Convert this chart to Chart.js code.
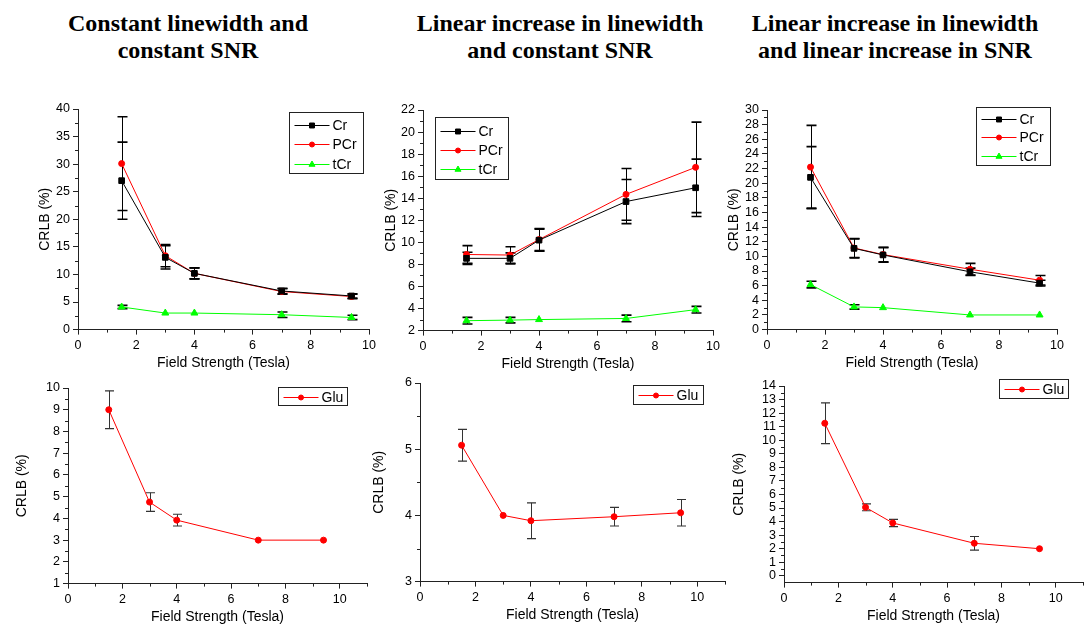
<!DOCTYPE html>
<html>
<head>
<meta charset="utf-8">
<script src="https://cdn.jsdelivr.net/npm/chart.js@4.4.1/dist/chart.umd.min.js"></script>
<style>
  body { margin: 0; background: #fff; width: 1089px; height: 626px; position: relative; overflow: hidden; }
  .title { position: absolute; top: 10px; width: 420px; text-align: center;
           font: bold 24px "Liberation Serif", "Times New Roman", serif; line-height: 27px; color: #000; }
  canvas { position: absolute; }
</style>
</head>
<body>
<div class="title" style="left:-22px">Constant linewidth and<br>constant SNR</div>
<div class="title" style="left:350px">Linear increase in linewidth<br>and constant SNR</div>
<div class="title" style="left:685px">Linear increase in linewidth<br>and linear increase in SNR</div>

<canvas id="topA"></canvas>
<canvas id="topB"></canvas>
<canvas id="topC"></canvas>
<canvas id="botA"></canvas>
<canvas id="botB"></canvas>
<canvas id="botC"></canvas>

<script>
// field strengths (Tesla)
const fieldStrength = [1.5, 3, 4, 7, 9.4];

// constant linewidth and constant SNR
const crA = [27.0, 13.1, 10.2, 7.0, 6.1];
const crErrA = [7.0, 2.1, 1.0, 0.5, 0.4];
const pcrA = [30.1, 13.4, 10.2, 6.9, 6.0];
const pcrErrA = [8.5, 2.0, 1.0, 0.5, 0.4];
const tcrA = [4.1, 3.0, 3.0, 2.7, 2.2];
const tcrErrA = [0.3, 0, 0, 0.5, 0.4];
const gluA = [9.0, 4.75, 3.92, 3.0, 3.0];
const gluErrA = [0.87, 0.43, 0.27, 0, 0];

// linear increase in linewidth and constant SNR
const crB = [8.55, 8.55, 10.2, 13.7, 14.95];
const crErrB = [0.55, 0.5, 1.0, 2.0, 2.6];
const pcrB = [8.9, 8.85, 10.25, 14.35, 16.8];
const pcrErrB = [0.8, 0.75, 1.0, 2.35, 4.1];
const tcrB = [2.9, 2.95, 3.0, 3.1, 3.9];
const tcrErrB = [0.3, 0.25, 0, 0.3, 0.3];
const gluB = [5.06, 4.0, 3.92, 3.98, 4.04];
const gluErrB = [0.24, 0, 0.27, 0.14, 0.2];

// linear increase in linewidth and linear increase in SNR
const crC = [20.8, 11.1, 10.2, 7.9, 6.35];
const crErrC = [4.2, 1.3, 1.0, 0.5, 0.4];
const pcrC = [22.2, 11.15, 10.25, 8.25, 6.75];
const pcrErrC = [5.7, 1.3, 1.0, 0.8, 0.65];
const tcrC = [6.15, 3.1, 3.0, 2.0, 2.0];
const tcrErrC = [0.45, 0.3, 0, 0, 0];
const gluC = [11.25, 5.05, 3.9, 2.4, 2.0];
const gluErrC = [1.5, 0.25, 0.27, 0.5, 0];

// ticks
const xTicks = [0, 2, 4, 6, 8, 10];
const yTicksTopA = [0, 5, 10, 15, 20, 25, 30, 35, 40];
const yTicksTopB = [2, 4, 6, 8, 10, 12, 14, 16, 18, 20, 22];
const yTicksTopC = [0, 2, 4, 6, 8, 10, 12, 14, 16, 18, 20, 22, 24, 26, 28, 30];
const yTicksBotA = [1, 2, 3, 4, 5, 6, 7, 8, 9, 10];
const yTicksBotB = [3, 4, 5, 6];
const yTicksBotC = [0, 1, 2, 3, 4, 5, 6, 7, 8, 9, 10, 11, 12, 13, 14];

const AXIS = '#222';
Chart.defaults.font.family = '"Liberation Sans", Arial, sans-serif';
Chart.defaults.color = '#000';

// vertical error bars with caps
const errorBars = {
  id: 'errorBars',
  beforeDatasetsDraw(chart, args, opts) {
    const { ctx, scales: { x, y } } = chart;
    chart.data.datasets.forEach(ds => {
      ctx.save();
      ctx.strokeStyle = opts.color;
      ds.data.forEach((p, i) => {
        const e = ds.errors[i];
        if (!e) return;
        const px = Math.round(x.getPixelForValue(p.x)) + 0.5;
        const t = y.getPixelForValue(p.y + e), b = y.getPixelForValue(p.y - e);
        ctx.lineWidth = 1;
        ctx.beginPath(); ctx.moveTo(px, t); ctx.lineTo(px, b); ctx.stroke();
        ctx.lineWidth = opts.capWidth;
        ctx.beginPath();
        ctx.moveTo(px - opts.cap, t); ctx.lineTo(px + opts.cap, t);
        ctx.moveTo(px - opts.cap, b); ctx.lineTo(px + opts.cap, b);
        ctx.stroke();
      });
      ctx.restore();
    });
  }
};

// small ticks half way between the labelled ones
const minorTicks = {
  id: 'minorTicks',
  afterDraw(chart) {
    const { ctx, scales: { x, y } } = chart;
    const halves = (s) => {
      const v = s.ticks.map(t => t.value), step = v[1] - v[0], out = [];
      for (let m = v[0] + step / 2; m < s.max + 1e-9; m += step) out.push(m);
      return out;
    };
    ctx.save();
    ctx.strokeStyle = AXIS; ctx.lineWidth = 1;
    ctx.beginPath();
    halves(x).forEach(v => {
      const px = Math.round(x.getPixelForValue(v)) + 0.5;
      ctx.moveTo(px, y.bottom); ctx.lineTo(px, y.bottom + 3);
    });
    halves(y).forEach(v => {
      if (v < y.min) return;
      const py = Math.round(y.getPixelForValue(v)) + 0.5;
      ctx.moveTo(x.left, py); ctx.lineTo(x.left - 3, py);
    });
    ctx.stroke();
    ctx.restore();
  }
};

// boxed legend drawn inside the plot
const legendBox = {
  id: 'legendBox',
  afterDraw(chart, args, o) {
    const { ctx, chartArea } = chart;
    const bx = Math.round(chartArea.left + o.x) + 0.5, by = Math.round(chartArea.top + o.y) + 0.5;
    ctx.save();
    ctx.strokeStyle = '#222'; ctx.lineWidth = 1;
    ctx.strokeRect(bx, by, o.w, o.h);
    ctx.font = '14px "Liberation Sans", Arial, sans-serif';
    ctx.textBaseline = 'middle';
    chart.data.datasets.forEach((ds, i) => {
      const ry = Math.round(by + o.row0 + i * o.gap) + 0.5;
      ctx.strokeStyle = ds.borderColor; ctx.lineWidth = 1;
      ctx.beginPath(); ctx.moveTo(bx + 5, ry); ctx.lineTo(bx + 40, ry); ctx.stroke();
      ctx.fillStyle = ds.pointBackgroundColor;
      Chart.helpers.drawPoint(ctx, { pointStyle: ds.pointStyle, radius: ds.pointRadius - 0.5, borderWidth: 1, rotation: 0 }, bx + 22.5, ry);
      ctx.fillStyle = '#000';
      ctx.fillText(ds.label, bx + 43, ry + 0.5);
    });
    ctx.restore();
  }
};

const series = {
  Cr:  { color: '#000000', style: 'rect', r: 4 },
  PCr: { color: '#ff0000', style: 'circle', r: 3 },
  tCr: { color: '#00ff00', style: 'triangle', r: 4 },
  Glu: { color: '#ff0000', style: 'circle', r: 3 }
};

function makeSet(label, values, errors) {
  const s = series[label];
  return {
    label,
    data: fieldStrength.map((x, i) => ({ x, y: values[i] })),
    errors,
    borderColor: s.color, backgroundColor: s.color,
    pointBackgroundColor: s.color, pointBorderColor: s.color,
    pointStyle: s.style, pointRadius: s.r, pointBorderWidth: 1,
    borderWidth: 1, tension: 0
  };
}

function makePanel(id, p) {
  const padTop = 15, padRight = 12;
  const W = p.yGap + 12, H = p.xGap + 8.4;
  const [l, t, r, b] = p.plot;
  const cv = document.getElementById(id);
  cv.width = W + (r - l) + padRight;
  cv.height = padTop + (b - t) + H;
  cv.style.left = (l - W) + 'px';
  cv.style.top = (t - padTop) + 'px';
  const axis = (ticksArr, extra) => Object.assign({
    type: 'linear',
    afterBuildTicks: s => { s.ticks = ticksArr.map(v => ({ value: v })); },
    grid: { drawOnChartArea: false, drawTicks: true, tickLength: 5, color: AXIS },
    border: { display: true, color: AXIS, width: 1 },
    ticks: { autoSkip: false, maxRotation: 0, padding: 3, color: '#000', font: { size: 12.5 } }
  }, extra);
  new Chart(cv, {
    type: 'line',
    data: { datasets: p.sets },
    options: {
      responsive: false, animation: false, devicePixelRatio: 1,
      layout: { padding: { top: padTop, right: padRight, left: 0, bottom: 0 } },
      plugins: {
        legend: { display: false }, tooltip: { enabled: false },
        errorBars: p.err,
        legendBox: p.legend
      },
      scales: {
        x: axis(xTicks, {
          min: 0, max: p.xMax,
          afterFit: s => { s.height = H; },
          title: { display: true, text: 'Field Strength (Tesla)', font: { size: 14 }, color: '#000', padding: { top: 0, bottom: 0 } }
        }),
        y: axis(p.yTicks, {
          min: p.yMin, max: p.yMax,
          afterFit: s => { s.width = W; },
          title: { display: true, text: 'CRLB (%)', font: { size: 14 }, color: '#000', padding: { top: 3.6, bottom: 0 } }
        })
      }
    },
    plugins: [errorBars, minorTicks, legendBox]
  });
}

const topErr = { color: '#000', cap: 5, capWidth: 1.6 };
const botErr = { color: '#333', cap: 4.5, capWidth: 1.2 };

makePanel('topA', {
  plot: [78, 109, 369, 330], yGap: 33, xGap: 34, xMax: 10, yMin: 0, yMax: 40, yTicks: yTicksTopA,
  sets: [makeSet('Cr', crA, crErrA), makeSet('PCr', pcrA, pcrErrA), makeSet('tCr', tcrA, tcrErrA)],
  err: topErr, legend: { x: 211, y: 3, w: 74, h: 61, row0: 12, gap: 19.5 }
});
makePanel('topB', {
  plot: [423, 110, 713, 331], yGap: 32, xGap: 34, xMax: 10, yMin: 2, yMax: 22, yTicks: yTicksTopB,
  sets: [makeSet('Cr', crB, crErrB), makeSet('PCr', pcrB, pcrErrB), makeSet('tCr', tcrB, tcrErrB)],
  err: topErr, legend: { x: 12, y: 7, w: 73, h: 62, row0: 13, gap: 19 }
});
makePanel('topC', {
  plot: [767, 110, 1057, 330], yGap: 33, xGap: 34, xMax: 10, yMin: 0, yMax: 30, yTicks: yTicksTopC,
  sets: [makeSet('Cr', crC, crErrC), makeSet('PCr', pcrC, pcrErrC), makeSet('tCr', tcrC, tcrErrC)],
  err: topErr, legend: { x: 209, y: -3, w: 74, h: 58, row0: 11, gap: 18.5 }
});
makePanel('botA', {
  plot: [68, 388, 367, 584], yGap: 46, xGap: 34, xMax: 11, yMin: 1, yMax: 10, yTicks: yTicksBotA,
  sets: [makeSet('Glu', gluA, gluErrA)],
  err: botErr, legend: { x: 210, y: -1, w: 69, h: 18, row0: 9.5, gap: 19 }
});
makePanel('botB', {
  plot: [420, 383, 725, 582], yGap: 41, xGap: 34, xMax: 11, yMin: 3, yMax: 6, yTicks: yTicksBotB,
  sets: [makeSet('Glu', gluB, gluErrB)],
  err: botErr, legend: { x: 213, y: 2, w: 70, h: 19, row0: 9.5, gap: 19 }
});
makePanel('botC', {
  plot: [784, 386, 1083, 583], yGap: 45, xGap: 34, xMax: 11, yMin: -0.5, yMax: 14, yTicks: yTicksBotC,
  sets: [makeSet('Glu', gluC, gluErrC)],
  err: botErr, legend: { x: 215, y: -7, w: 69, h: 19, row0: 9.5, gap: 19 }
});
</script>
</body>
</html>
